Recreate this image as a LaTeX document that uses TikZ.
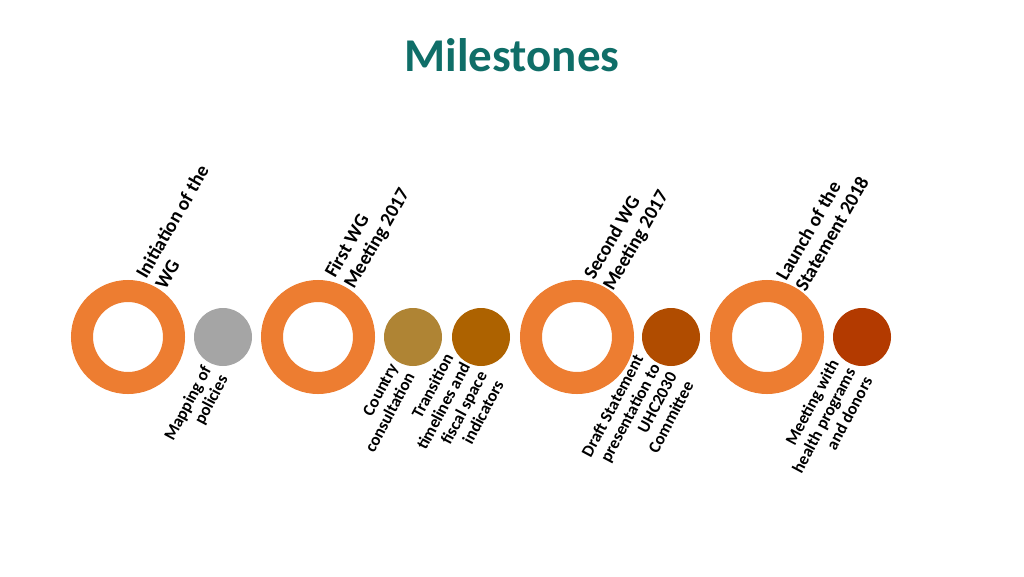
\documentclass[tikz,border=0pt]{standalone}
\usepackage{fontspec}
\setmainfont{Carlito}
\definecolor{ring}{HTML}{ED7D31}
\definecolor{teal}{HTML}{0F6E68}
\definecolor{cA}{HTML}{A5A5A5}
\definecolor{cB}{HTML}{AF8434}
\definecolor{cC}{HTML}{AD6200}
\definecolor{cD}{HTML}{B04C00}
\definecolor{cE}{HTML}{B33A00}
\begin{document}
\begin{tikzpicture}[x=1pt,y=-1pt,
  ringc/.style={circle,draw=ring,line width=22pt,minimum size=92pt,inner sep=0},
  dot/.style={circle,minimum size=58pt,inner sep=0},
  up/.style={rotate=60,anchor=west,align=left,inner sep=0,font=\fontsize{19.5}{22}\selectfont\bfseries},
  low/.style={rotate=62,anchor=east,align=right,inner sep=0,font=\fontsize{17}{19}\selectfont\bfseries}]
\useasboundingbox (0,0) rectangle (1024,576);
\node[font=\fontsize{47}{50}\selectfont\bfseries,text=teal] (title) at (512,55) {Milestones};
\node[ringc] (r1) at (128,337) {};
\node[ringc] (r2) at (318,337) {};
\node[ringc] (r3) at (577,337) {};
\node[ringc] (r4) at (767,337) {};
\node[dot,fill=cA] (d1) at (223,337) {};
\node[dot,fill=cB] (d2) at (413,337) {};
\node[dot,fill=cC] (d3) at (481,337) {};
\node[dot,fill=cD] (d4) at (671,337) {};
\node[dot,fill=cE] (d5) at (862,337) {};
\node[up] (u1) at (150,282) {Initiation of the\\WG};
\node[up] (u2) at (340,282) {First WG\\Meeting 2017};
\node[up] (u3) at (599,284) {Second WG\\Meeting 2017};
\node[up] (u4) at (790,284) {Launch of the\\Statement 2018};
\node[low] (l1) at (216,372) {Mapping of\\policies};
\node[low] (l2) at (402,369) {Country\\consultation};
\node[low] (l3) at (474,368) {Transition\\timelines and\\fiscal space\\indicators};
\node[low] (l4) at (664,369) {Draft Statement\\presentation to\\UHC2030\\Committee};
\node[low] (l5) at (851,369) {Meeting with\\health programs\\and donors};
\end{tikzpicture}
\end{document}
